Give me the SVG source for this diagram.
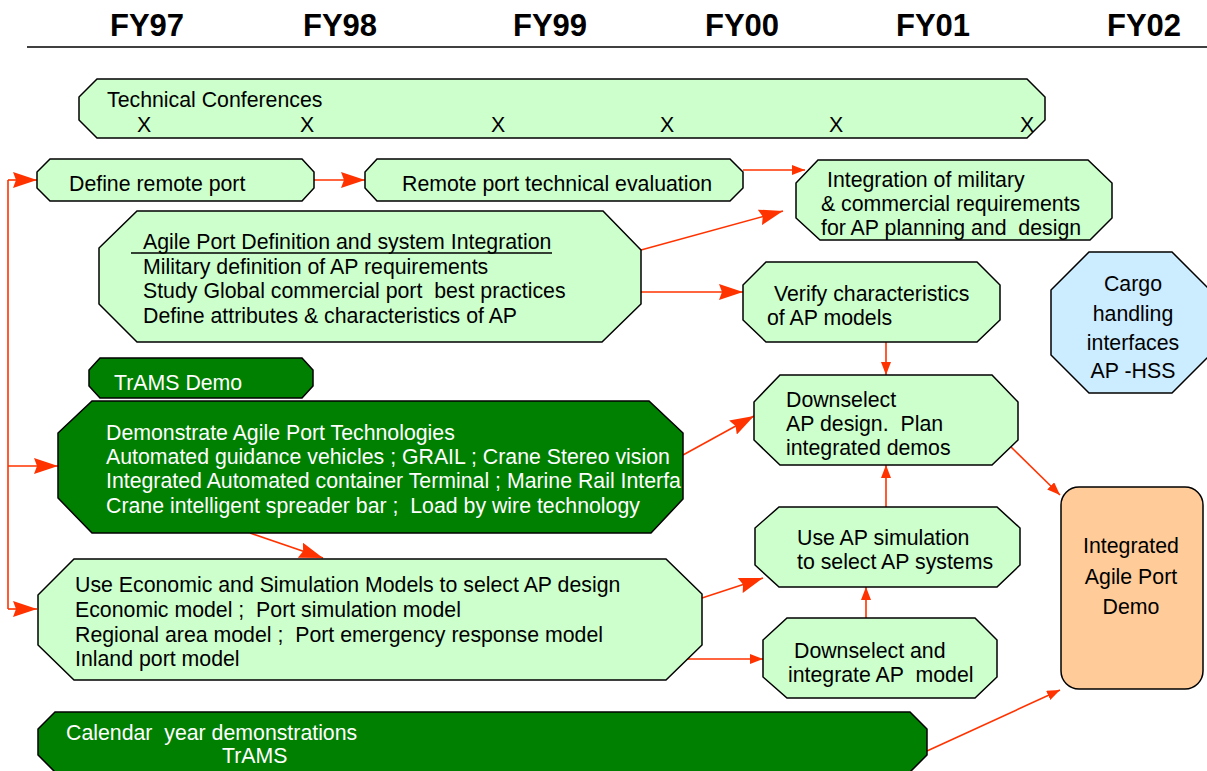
<svg xmlns="http://www.w3.org/2000/svg" width="1207" height="771" viewBox="0 0 1207 771">
<style>
text{font-family:"Liberation Sans",Arial,sans-serif;font-size:21.3px;fill:#000;white-space:pre}
.hdr{font-size:31px;font-weight:bold}
.w{fill:#fff}
.lg{fill:#CCFFCC;stroke:#000;stroke-width:1.5}
.dg{fill:#008000;stroke:#000;stroke-width:1.5}
.bl{fill:#CCECFF;stroke:#000;stroke-width:1.5}
.or{fill:#FFCC99;stroke:#000;stroke-width:1.5}
.c{fill:none;stroke:#FF3300;stroke-width:1.6}
.big{marker-end:url(#ab)}
.sm{marker-end:url(#as)}
</style>
<defs>
<marker id="ab" markerUnits="userSpaceOnUse" markerWidth="24" markerHeight="16" refX="24" refY="8" orient="auto" viewBox="0 0 24 16">
<path d="M0,0 L24,8 L0,16 L3,8 z" fill="#FF3300"/>
</marker>
<marker id="as" markerUnits="userSpaceOnUse" markerWidth="13" markerHeight="10" refX="13" refY="5" orient="auto" viewBox="0 0 13 10">
<path d="M0,0 L13,5 L0,10 z" fill="#FF3300"/>
</marker>
<clipPath id="demoClip"><polygon points="92,401 649,401 683,433 683,499 651,533 92,533 58,498 58,433"/></clipPath>
</defs>
<rect width="1207" height="771" fill="#fff"/>
<g id="header">
<text class="hdr" x="110" y="36">FY97</text>
<text class="hdr" x="303" y="36">FY98</text>
<text class="hdr" x="513" y="36">FY99</text>
<text class="hdr" x="705" y="36">FY00</text>
<text class="hdr" x="896" y="36">FY01</text>
<text class="hdr" x="1107" y="36">FY02</text>
<line x1="27" y1="47" x2="1207" y2="47" stroke="#000" stroke-width="1.6"/>
</g>
<g id="connectors">
<path class="c" d="M8,180 V609"/>
<path class="c big" d="M8,180 H37"/>
<path class="c big" d="M8,466 H58"/>
<path class="c big" d="M8,609 H37"/>
<path class="c big" d="M314,180 H365"/>
<path class="c sm" d="M743,170 H805"/>
<path class="c big" d="M641,250 L783,211"/>
<path class="c big" d="M641,292 H743"/>
<path class="c sm" d="M886,342 V375"/>
<path class="c big" d="M683,455 L754,416"/>
<path class="c big" d="M250,533 L323,558"/>
<path class="c big" d="M702,598 L763,578"/>
<path class="c sm" d="M682,659 H763"/>
<path class="c sm" d="M886,507 V465"/>
<path class="c sm" d="M866,618 V587"/>
<path class="c sm" d="M1010,446 L1060,495"/>
<path class="c sm" d="M927,751 L1060,690"/>
</g>
<g id="tech">
<polygon class="lg" points="97,79 1027,79 1045,97 1045,120 1027,138 97,138 79,120 79,97"/>
<text x="107" y="107">Technical Conferences</text>
<text x="144" y="132" text-anchor="middle">X</text>
<text x="307" y="132" text-anchor="middle">X</text>
<text x="498" y="132" text-anchor="middle">X</text>
<text x="667" y="132" text-anchor="middle">X</text>
<text x="836" y="132" text-anchor="middle">X</text>
<text x="1027" y="132" text-anchor="middle">X</text>
</g>
<g id="define">
<polygon class="lg" points="50,159 302,159 314,172 314,188 302,201 50,201 37,188 37,172"/>
<text x="69" y="191">Define remote port</text>
</g>
<g id="remote">
<polygon class="lg" points="377,159 730,159 743,172 743,188 730,201 377,201 365,188 365,172"/>
<text x="402" y="191">Remote port technical evaluation</text>
</g>
<g id="integration">
<polygon class="lg" points="818,160 1088,160 1112,183 1112,218 1090,240 820,240 796,218 796,183"/>
<text x="827" y="187">Integration of military</text>
<text x="821" y="211">&amp; commercial requirements</text>
<text x="821" y="235">for AP planning and  design</text>
</g>
<g id="agile">
<polygon class="lg" points="137,211 603,211 641,250 641,304 602,342 137,342 99,304 99,248"/>
<text x="143" y="249">Agile Port Definition and system Integration</text>
<line x1="131" y1="253" x2="552" y2="253" stroke="#000" stroke-width="1.6"/>
<text x="143" y="274">Military definition of AP requirements</text>
<text x="143" y="298">Study Global commercial port  best practices</text>
<text x="143" y="323">Define attributes &amp; characteristics of AP</text>
</g>
<g id="verify">
<polygon class="lg" points="766,262 977,262 1000,285 1000,320 977,342 766,342 743,320 743,285"/>
<text x="774" y="301">Verify characteristics</text>
<text x="767" y="325">of AP models</text>
</g>
<g id="cargo">
<polygon class="bl" points="1089,252 1172,252 1210,290 1210,355 1172,393 1089,393 1051,355 1051,290"/>
<text x="1133" y="291" text-anchor="middle">Cargo</text>
<text x="1133" y="321" text-anchor="middle">handling</text>
<text x="1133" y="350" text-anchor="middle">interfaces</text>
<text x="1133" y="378" text-anchor="middle">AP -HSS</text>
</g>
<g id="trams">
<polygon class="dg" points="100,358 302,358 313,370 313,386 302,398 100,398 89,386 89,370"/>
<text class="w" x="114" y="390">TrAMS Demo</text>
</g>
<g id="demo">
<polygon class="dg" points="92,401 649,401 683,433 683,499 651,533 92,533 58,498 58,433"/>
<g clip-path="url(#demoClip)">
<text class="w" x="106" y="440">Demonstrate Agile Port Technologies</text>
<text class="w" x="106" y="464">Automated guidance vehicles ; GRAIL ; Crane Stereo vision</text>
<text class="w" x="106" y="488">Integrated Automated container Terminal ; Marine Rail Interfa</text>
<text class="w" x="106" y="513">Crane intelligent spreader bar ;  Load by wire technology</text>
</g>
</g>
<g id="downselect">
<polygon class="lg" points="780,375 992,375 1018,402 1018,440 992,465 780,465 754,440 754,402"/>
<text x="786" y="407">Downselect</text>
<text x="786" y="431">AP design.  Plan</text>
<text x="786" y="455">integrated demos</text>
</g>
<g id="useap">
<polygon class="lg" points="779,507 997,507 1020,528 1020,565 997,587 779,587 755,565 755,528"/>
<text x="797" y="545">Use AP simulation</text>
<text x="797" y="569">to select AP systems</text>
</g>
<g id="econ">
<polygon class="lg" points="74,559 666,559 702,594 702,645 666,680 74,680 38,645 38,595"/>
<text x="75" y="592">Use Economic and Simulation Models to select AP design</text>
<text x="75" y="617">Economic model ;  Port simulation model</text>
<text x="75" y="642">Regional area model ;  Port emergency response model</text>
<text x="75" y="666">Inland port model</text>
</g>
<g id="dsint">
<polygon class="lg" points="787,618 975,618 997,640 997,677 975,698 787,698 763,677 763,640"/>
<text x="794" y="658">Downselect and</text>
<text x="788" y="682">integrate AP  model</text>
</g>
<g id="integrated">
<rect class="or" x="1061" y="487" width="142" height="202" rx="18" ry="18"/>
<text x="1131" y="553" text-anchor="middle">Integrated</text>
<text x="1131" y="584" text-anchor="middle">Agile Port</text>
<text x="1131" y="614" text-anchor="middle">Demo</text>
</g>
<g id="calendar">
<polygon class="dg" points="55,712 910,712 927,729 927,755 910,772 55,772 38,755 38,729"/>
<text class="w" x="66" y="740">Calendar  year demonstrations</text>
<text class="w" x="222" y="763">TrAMS</text>
</g>
</svg>
